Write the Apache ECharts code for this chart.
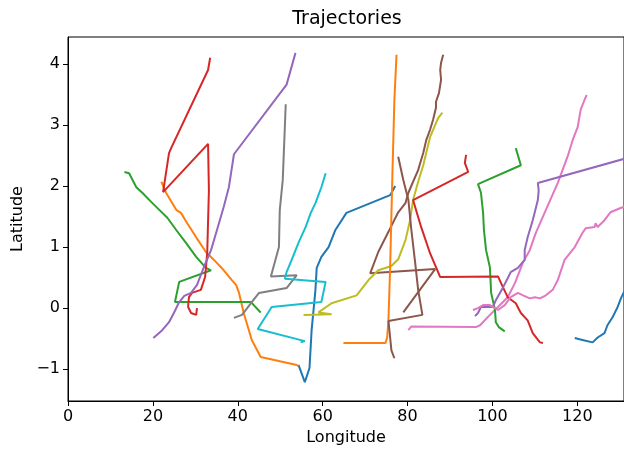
<!DOCTYPE html>
<html><head><meta charset="utf-8">
<script src="https://cdn.jsdelivr.net/npm/echarts@6/dist/echarts.min.js"></script>
<style>html,body{margin:0;padding:0;background:#fff}#c{width:624px;height:451px}</style>
</head><body><div id="c"></div>
<script>
// axis ticks
const xTicks = [0, 20, 40, 60, 80, 100, 120];
const yTicks = [-1, 0, 1, 2, 3, 4];
// trajectories: [longitude, latitude]
const blueA = [[77.1,2.00],[75.9,1.85],[65.6,1.56],[63.0,1.28],[61.4,1.00],[59.7,0.84],[58.6,0.66],[58.3,0.30],[57.4,-0.36],[56.9,-0.98],[55.8,-1.21],[54.3,-0.93]];
const orangeA = [[22.0,2.07],[23.1,1.89],[25.5,1.61],[26.6,1.56],[28.1,1.39],[30.2,1.16],[32.5,0.92],[34.4,0.79],[36.7,0.62],[38.6,0.46],[39.6,0.38],[40.3,0.25],[41.4,-0.08],[43.3,-0.52],[45.4,-0.80],[53.9,-0.93],[54.3,-0.95]];
const greenA = [[13.3,2.23],[14.4,2.21],[16.1,1.98],[17.5,1.89],[19.6,1.74],[21.5,1.61],[23.4,1.48],[25.5,1.28],[27.8,1.07],[30.2,0.84],[32.5,0.66],[33.7,0.62],[26.2,0.43],[25.2,0.10],[43.1,0.10],[45.4,-0.07]];
const redA = [[33.5,4.10],[33.0,3.90],[24.3,2.62],[23.8,2.54],[22.4,1.90],[33.0,2.69],[33.2,1.93],[32.8,0.90],[32.3,0.51],[31.3,0.30],[29.2,0.25],[28.5,0.18],[28.3,0.02],[29.0,-0.08],[30.2,-0.11],[30.4,0.00]];
const purpleA = [[20.1,-0.49],[22.2,-0.36],[23.8,-0.23],[25.0,-0.07],[26.2,0.10],[27.4,0.20],[29.0,0.25],[30.4,0.38],[32.0,0.67],[33.7,0.95],[35.1,1.28],[36.7,1.66],[37.9,1.98],[39.1,2.52],[51.5,3.66],[53.6,4.18]];
const brownA = [[88.4,4.15],[87.9,4.02],[87.7,3.90],[87.9,3.74],[87.4,3.52],[86.7,3.38],[86.7,3.28],[86.0,3.08],[85.3,2.92],[84.4,2.75],[83.7,2.54],[83.0,2.38],[82.5,2.26],[81.3,2.07],[80.2,1.89],[79.5,1.72],[77.8,1.57],[75.5,1.25],[73.1,0.92],[71.2,0.57],[86.5,0.64],[79.0,-0.07]];
const pinkA = [[122.2,3.49],[121.7,3.41],[120.8,3.25],[120.1,2.97],[118.9,2.75],[117.7,2.48],[115.4,2.05],[112.6,1.61],[110.2,1.23],[108.8,0.95],[107.2,0.75],[105.3,0.41],[103.6,0.18],[101.3,0.02],[99.4,-0.11],[97.1,-0.28],[96.1,-0.31],[80.9,-0.30],[80.2,-0.36]];
const grayA = [[51.3,3.34],[50.6,2.10],[49.9,1.61],[49.7,1.00],[47.8,0.52],[53.9,0.54],[51.5,0.33],[45.0,0.25],[43.3,0.10],[41.0,-0.11],[39.1,-0.16]];
const oliveA = [[55.5,-0.11],[62.1,-0.10],[59.0,-0.07],[62.1,0.08],[68.0,0.21],[70.8,0.46],[73.1,0.62],[76.2,0.69],[77.8,0.80],[79.5,1.11],[80.6,1.44],[81.3,1.77],[82.5,2.07],[83.7,2.34],[85.3,2.80],[87.2,3.11],[88.2,3.20]];
const cyanA = [[60.7,2.21],[59.7,1.98],[59.0,1.85],[58.3,1.72],[57.2,1.56],[56.0,1.33],[54.3,1.07],[52.7,0.79],[51.5,0.59],[51.1,0.48],[60.7,0.43],[59.7,0.10],[48.0,0.02],[44.7,-0.34],[55.8,-0.54],[54.8,-0.56]];
const blueB = [[119.4,-0.49],[121.2,-0.52],[123.6,-0.56],[124.8,-0.48],[126.4,-0.41],[127.1,-0.28],[128.3,-0.15],[129.5,0.02],[130.4,0.18],[131.8,0.38]];
const orangeB = [[77.4,4.15],[76.9,3.41],[76.4,2.10],[75.9,0.67],[75.5,-0.20],[75.2,-0.48],[74.8,-0.57],[64.9,-0.57]];
const greenB = [[105.5,2.62],[106.7,2.34],[96.6,2.03],[97.3,1.89],[97.8,1.56],[98.0,1.28],[98.5,0.95],[99.4,0.67],[99.7,0.25],[100.6,-0.03],[100.8,-0.23],[101.5,-0.31],[102.9,-0.38]];
const redB = [[93.8,2.51],[93.5,2.38],[94.3,2.23],[81.3,1.77],[83.2,1.33],[85.3,0.90],[87.7,0.51],[101.3,0.52],[102.5,0.34],[103.6,0.18],[105.5,0.08],[106.7,-0.08],[108.3,-0.20],[109.5,-0.41],[111.2,-0.56],[111.9,-0.57]];
const purpleB = [[131.8,2.46],[110.7,2.05],[110.9,1.93],[110.7,1.77],[109.5,1.44],[108.3,1.16],[107.6,0.95],[107.6,0.79],[106.0,0.66],[104.3,0.59],[103.6,0.49],[102.5,0.34],[100.8,0.13],[100.1,0.02],[97.3,0.02],[96.6,-0.08],[95.9,-0.13]];
const brownB = [[77.8,2.48],[79.0,2.10],[80.2,1.77],[80.9,1.28],[81.8,0.74],[82.5,0.30],[83.5,-0.11],[75.5,-0.21],[75.9,-0.48],[76.2,-0.69],[76.9,-0.82]];
const pinkB = [[95.4,-0.03],[96.6,0.00],[97.8,0.05],[99.4,0.05],[100.6,0.00],[101.3,-0.03],[102.9,0.05],[104.3,0.18],[106.0,0.25],[107.2,0.21],[108.8,0.16],[110.0,0.18],[111.2,0.16],[112.6,0.21],[114.2,0.30],[115.4,0.46],[117.0,0.79],[119.4,1.00],[121.2,1.23],[122.0,1.31],[124.1,1.33],[124.3,1.39],[124.8,1.33],[126.4,1.44],[127.8,1.57],[130.2,1.64],[132.4,1.69]];

const tracks = [
  [blueA,'#1f77b4'],[orangeA,'#ff7f0e'],[greenA,'#2ca02c'],[redA,'#d62728'],[purpleA,'#9467bd'],
  [brownA,'#8c564b'],[pinkA,'#e377c2'],[grayA,'#7f7f7f'],[oliveA,'#bcbd22'],[cyanA,'#17becf'],
  [blueB,'#1f77b4'],[orangeB,'#ff7f0e'],[greenB,'#2ca02c'],[redB,'#d62728'],[purpleB,'#9467bd'],
  [brownB,'#8c564b'],[pinkB,'#e377c2']
];

const font = 'DejaVu Sans';
const chart = echarts.init(document.getElementById('c'), null, {renderer:'canvas'});
chart.setOption({
  animation: false,
  backgroundColor: '#fff',
  grid: {left: 68, right: -3, top: 37, bottom: 50, show: true, borderColor: '#000', borderWidth: 1, containLabel: false},
  graphic: [
    {type:'text', x: 347, y: 10, style:{text:'Trajectories', font:'19px "DejaVu Sans"', fill:'#000', textAlign:'center'}},
  ],
  xAxis: {
    type: 'value', min: 0, max: 131,
    name: 'Longitude', nameLocation: 'middle', nameGap: 29,
    nameTextStyle: {fontFamily: font, fontSize: 16, color: '#000'},
    axisLine: {show: true, onZero: false, lineStyle: {color: '#000', width: 1}},
    axisTick: {show: true, length: 5, customValues: xTicks, lineStyle: {color: '#000'}},
    axisLabel: {customValues: xTicks, fontFamily: font, fontSize: 16, color: '#000', margin: 8},
    splitLine: {show: false}
  },
  yAxis: {
    type: 'value', min: -1.52, max: 4.44,
    name: 'Latitude', nameLocation: 'middle', nameGap: 40, nameRotate: 90,
    nameTextStyle: {fontFamily: font, fontSize: 16, color: '#000'},
    axisLine: {show: true, onZero: false, lineStyle: {color: '#000', width: 1}},
    axisTick: {show: true, length: 5, customValues: yTicks, lineStyle: {color: '#000'}},
    axisLabel: {customValues: yTicks, fontFamily: font, fontSize: 16, color: '#000', margin: 8,
      formatter: v => String(v).replace('-', '\u2212')},
    splitLine: {show: false}
  },
  series: tracks.map(([d, c]) => ({
    type: 'line', data: d, showSymbol: false, symbol: 'none', clip: true,
    lineStyle: {color: c, width: 2}, itemStyle: {color: c}
  }))
});
</script></body></html>
